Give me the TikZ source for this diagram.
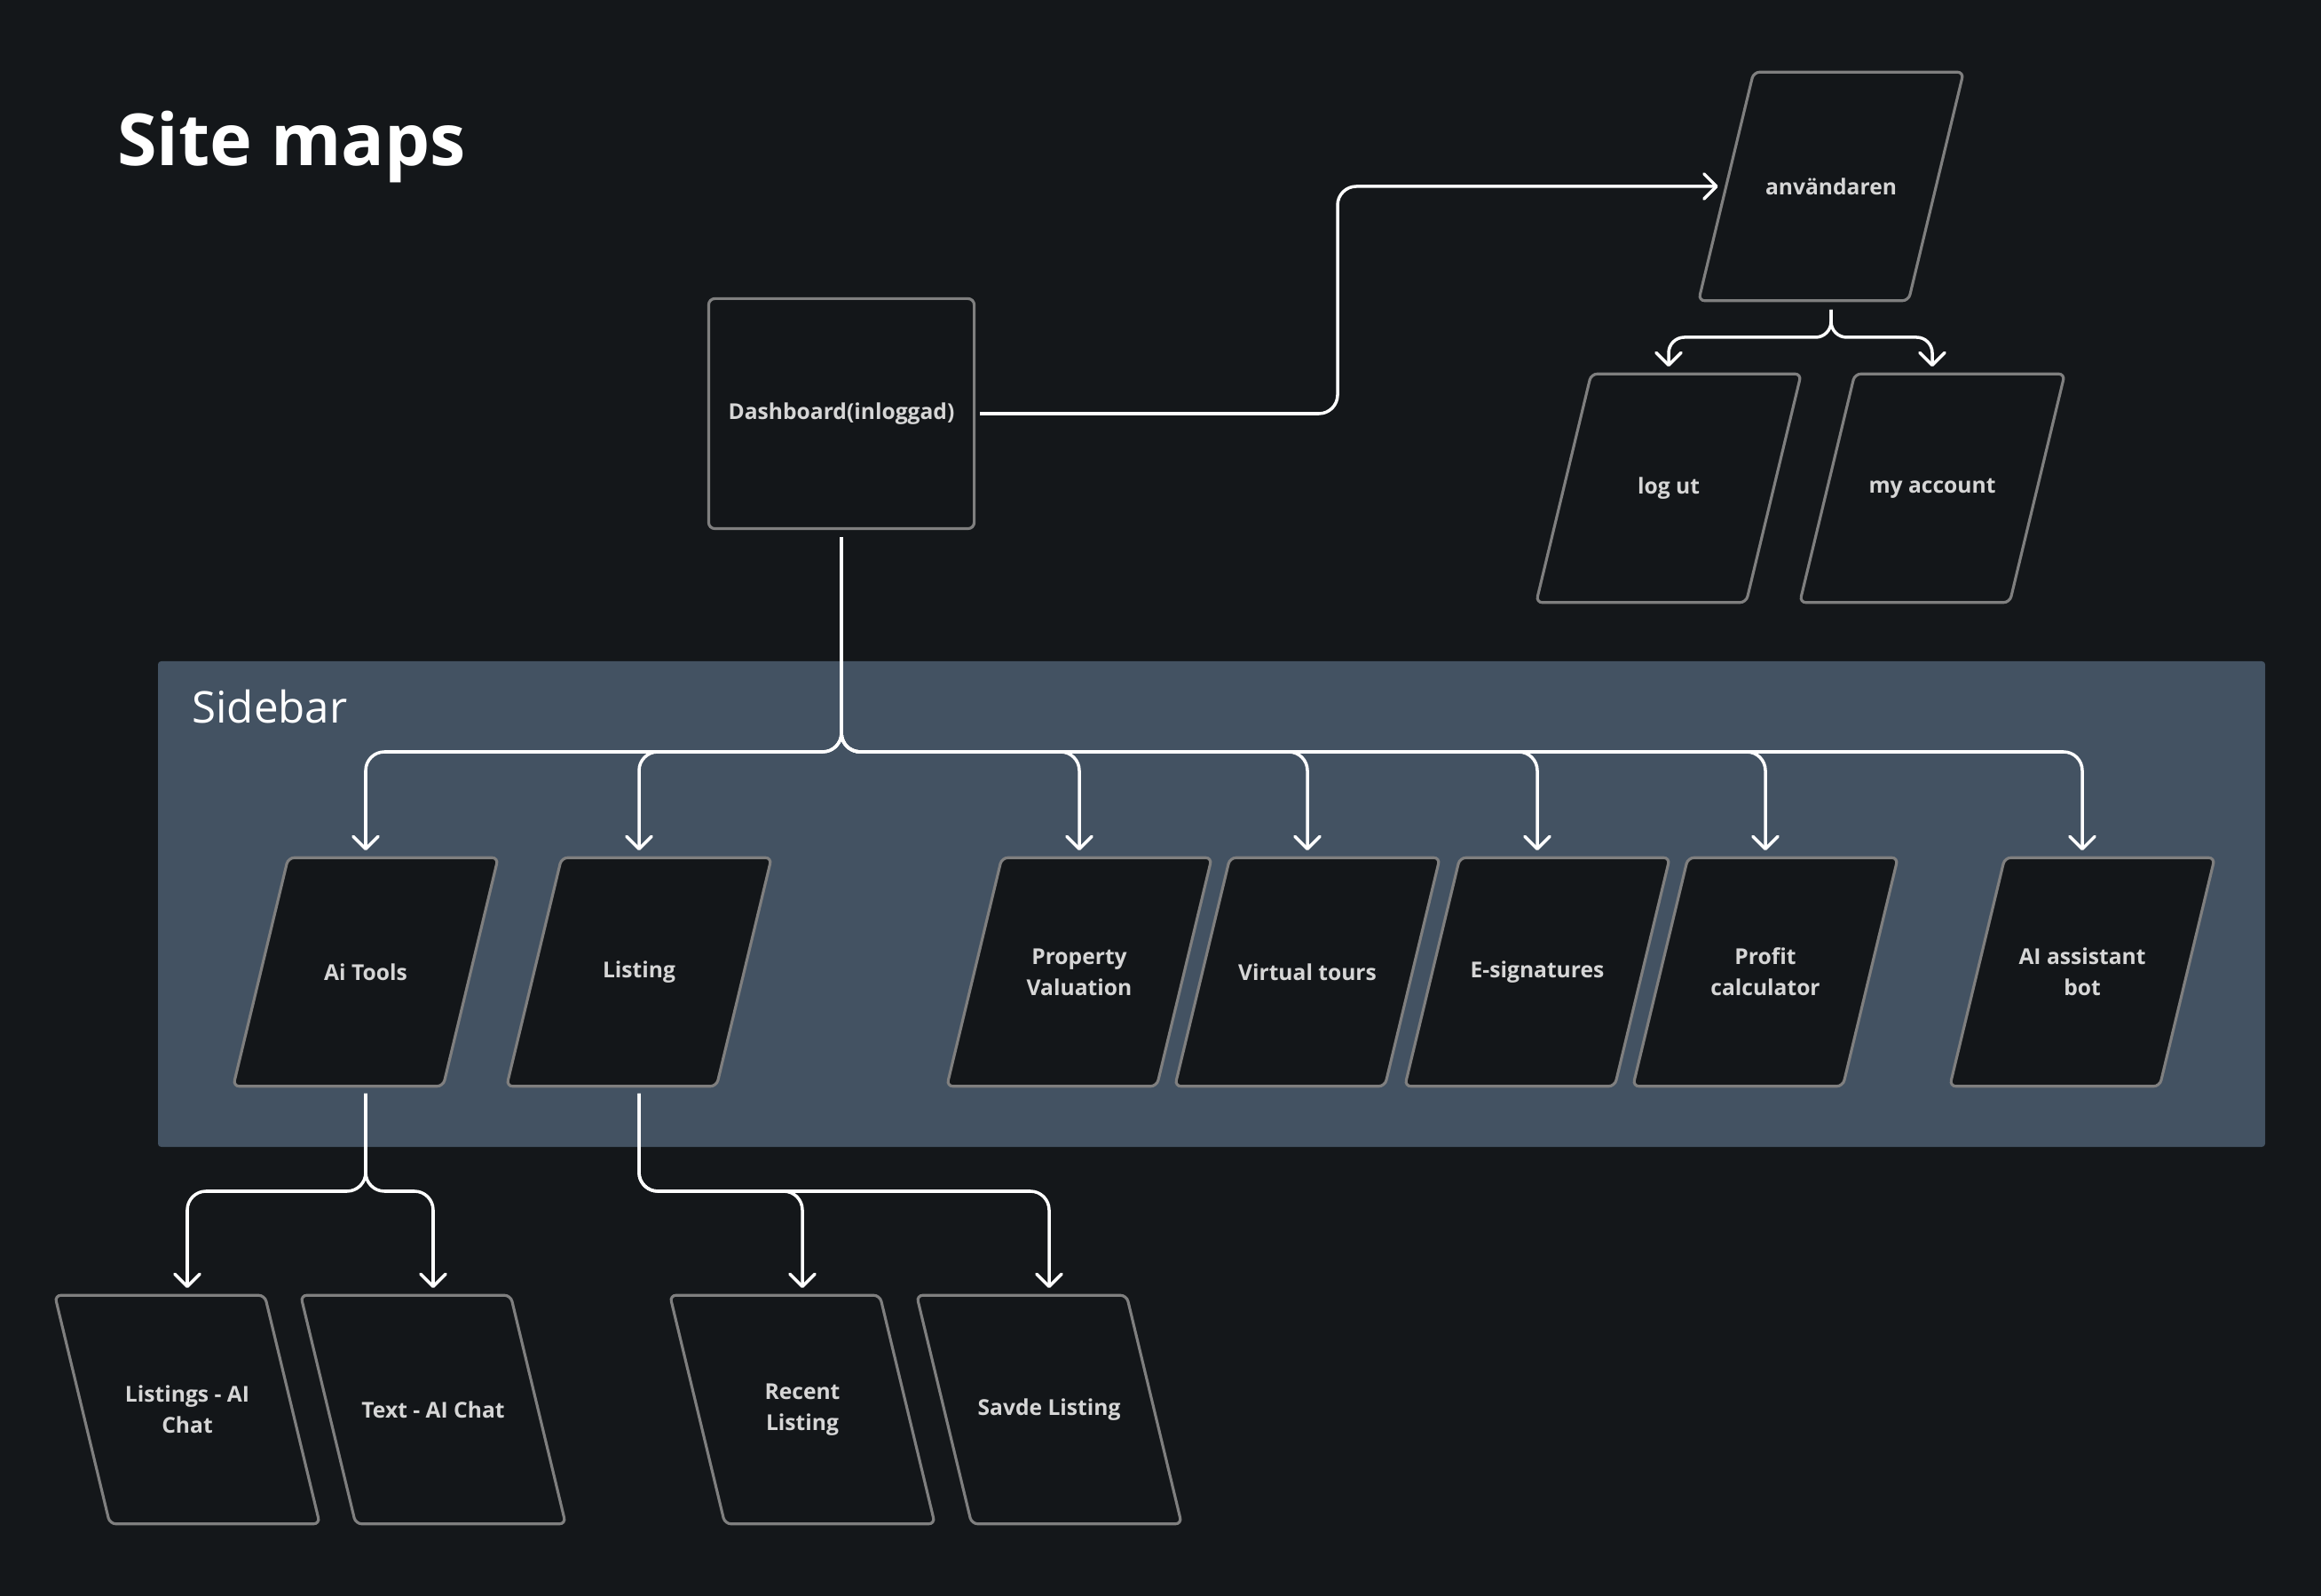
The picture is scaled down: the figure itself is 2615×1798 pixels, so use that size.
\documentclass[tikz,border=0pt]{standalone}
\usepackage{fontspec}
\setmainfont{Open Sans}
\usetikzlibrary{arrows.meta, calc, backgrounds}

\definecolor{bgdark}{HTML}{14171A}
\definecolor{boxfill}{HTML}{131619}
\definecolor{boxedge}{HTML}{7F7F7F}
\definecolor{sidefill}{HTML}{435262}
\definecolor{labelgrey}{HTML}{D6D6D6}

\tikzset{boxline/.style={draw=boxedge, line width=0.9pt, fill=boxfill, rounded corners=2pt}}

% slanted outline behind a page node: #1 node, #2 half of the slant
\newcommand{\slantbox}[2]{%
    \begin{pgfonlayer}{background}
    \path[boxline] ($(#1.north west)+(#2,0)$) -- ($(#1.north east)+(#2,0)$)
        -- ($(#1.south east)-(#2,0)$) -- ($(#1.south west)-(#2,0)$) -- cycle;
    \end{pgfonlayer}}

\begin{document}
\begin{tikzpicture}[x=0.01cm, y=-0.01cm,
    sitepage/.style={rectangle, minimum width=2.35cm, minimum height=2.56cm, inner sep=0pt,
        text=labelgrey, font=\bfseries\fontsize{7}{10}\selectfont, align=center},
    dashbox/.style={sitepage, boxline, minimum width=2.99cm, minimum height=2.59cm},
    link/.style={draw=white, line width=1pt, rounded corners=6pt,
        -{Straight Barb[length=4pt, width=8pt, round]}, shorten >=0.08cm}]
    \begin{pgfonlayer}{background}
    \fill[bgdark] (0,0) rectangle (2615,1798);
    % sidebar panel
    \fill[sidefill, rounded corners=1pt] (178,745) rectangle (2552,1292);
    \end{pgfonlayer}
    \node[anchor=base west, text=white, font=\bfseries\fontsize{23}{27}\selectfont] (title) at (120,187) {Site maps};
    \node[anchor=base west, text=white, font=\fontsize{14}{17}\selectfont] (sidebar) at (204,815) {Sidebar};

    \node[dashbox] (dash) at (948,466) {Dashboard(inloggad)};
    \node[sitepage] (anv) at (2063,210) {användaren};
    \node[sitepage] (logut) at (1880,550) {log ut};
    \node[sitepage] (myacc) at (2177,550) {my account};

    \node[sitepage] (ait) at (412,1095) {Ai Tools};
    \node[sitepage] (lst) at (720,1095) {Listing};
    \node[sitepage] (prop) at (1216,1095) {Property\\Valuation};
    \node[sitepage] (virt) at (1473,1095) {Virtual tours};
    \node[sitepage] (esig) at (1732,1095) {E-signatures};
    \node[sitepage] (profit) at (1989,1095) {Profit\\calculator};
    \node[sitepage] (aibot) at (2346,1095) {AI assistant\\bot};

    \node[sitepage] (lachat) at (211,1588) {Listings - AI\\Chat};
    \node[sitepage] (tachat) at (488,1588) {Text - AI Chat};
    \node[sitepage] (recent) at (904,1588) {Recent\\Listing};
    \node[sitepage] (savde) at (1182,1588) {Savde Listing};

    \slantbox{anv}{31} \slantbox{logut}{31} \slantbox{myacc}{31}
    \slantbox{ait}{31} \slantbox{lst}{31} \slantbox{prop}{31} \slantbox{virt}{31}
    \slantbox{esig}{31} \slantbox{profit}{31} \slantbox{aibot}{31}
    \slantbox{lachat}{-31} \slantbox{tachat}{-31} \slantbox{recent}{-31} \slantbox{savde}{-31}

    \coordinate (anvturn) at (1507,466);
    \coordinate (anvbus) at (2063,380);
    \coordinate (sidebus) at (949,847);
    \coordinate (aibus) at (413,1342);
    \coordinate (listbus) at (720,1342);

    \draw[link] ([xshift=0.05cm]dash.east) -- (anvturn) |- ([xshift=-0.01cm]anv.west);
    \draw[link, rounded corners=5pt] ([yshift=-0.1cm]anv.south) |- (anvbus -| logut.north) -- (logut.north);
    \draw[link, rounded corners=5pt] ([yshift=-0.1cm]anv.south) |- (anvbus -| myacc.north) -- (myacc.north);

    \draw[link] ([yshift=-0.08cm]dash.south) |- (sidebus -| ait.north) -- (ait.north);
    \draw[link] ([yshift=-0.08cm]dash.south) |- (sidebus -| lst.north) -- (lst.north);
    \draw[link] ([yshift=-0.08cm]dash.south) |- (sidebus -| prop.north) -- (prop.north);
    \draw[link] ([yshift=-0.08cm]dash.south) |- (sidebus -| virt.north) -- (virt.north);
    \draw[link] ([yshift=-0.08cm]dash.south) |- (sidebus -| esig.north) -- (esig.north);
    \draw[link] ([yshift=-0.08cm]dash.south) |- (sidebus -| profit.north) -- (profit.north);
    \draw[link] ([yshift=-0.08cm]dash.south) |- (sidebus -| aibot.north) -- (aibot.north);

    \draw[link] ([yshift=-0.08cm]ait.south) |- (aibus -| lachat.north) -- (lachat.north);
    \draw[link] ([yshift=-0.08cm]ait.south) |- (aibus -| tachat.north) -- (tachat.north);
    \draw[link] ([yshift=-0.08cm]lst.south) |- (listbus -| recent.north) -- (recent.north);
    \draw[link] ([yshift=-0.08cm]lst.south) |- (listbus -| savde.north) -- (savde.north);
\end{tikzpicture}
\end{document}
